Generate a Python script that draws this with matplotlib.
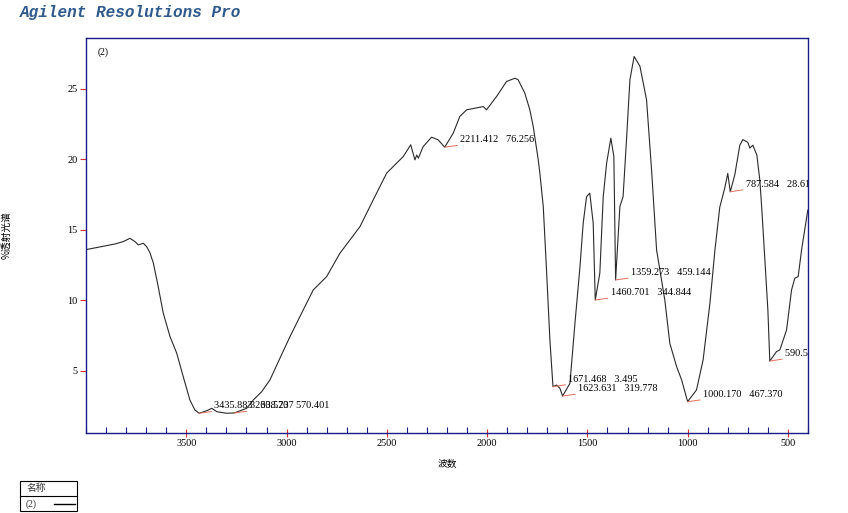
import matplotlib.pyplot as plt
from matplotlib.ticker import MultipleLocator
from matplotlib.patches import Rectangle
from matplotlib.lines import Line2D

plt.rcParams['font.family'] = ['Noto Sans CJK SC', 'DejaVu Sans']

# spectrum (2): wavenumber / %T
wn = [4000, 3905, 3855, 3814, 3781, 3756, 3739, 3714, 3697, 3681, 3664, 3640,
      3615, 3581, 3548, 3515, 3482, 3457, 3435.9, 3398, 3373, 3348, 3299, 3260.6,
      3199, 3166, 3124, 3083, 3033, 2983, 2917, 2867, 2800, 2734, 2634, 2568,
      2501, 2468, 2418, 2381, 2360, 2351, 2343, 2319, 2277, 2244, 2211.4, 2169,
      2136, 2102, 2019, 2003, 1953, 1903, 1861, 1845, 1812, 1787, 1770, 1745,
      1737, 1720, 1703, 1687, 1671.5, 1654, 1637, 1623.6, 1587, 1562, 1537, 1521,
      1504, 1488, 1471, 1460.7, 1438, 1421, 1404, 1383, 1368, 1359.3, 1338, 1322,
      1305, 1288, 1267, 1238, 1205, 1180, 1155, 1114, 1089, 1055, 1030, 1000.2,
      956, 923, 889, 864, 840, 815, 800, 787.6, 765, 740, 725, 700, 690, 675,
      655, 640, 630, 615, 600, 590.5, 557, 540, 507, 482, 466, 449, 432, 401]
trans = [13.6, 13.86, 14.0, 14.17, 14.4, 14.17, 13.93, 14.05, 13.8, 13.37, 12.64, 10.98,
         9.11, 7.43, 6.27, 4.59, 2.94, 2.23, 2.0, 2.18, 2.35, 2.11, 2.0, 2.02,
         2.35, 2.94, 3.53, 4.36, 5.9, 7.43, 9.32, 10.74, 11.69, 13.34, 15.23, 17.12,
         19.02, 19.49, 20.2, 21.03, 19.96, 20.3, 20.08, 20.9, 21.57, 21.38, 20.86, 21.85,
         23.04, 23.51, 23.74, 23.51, 24.45, 25.52, 25.75, 25.63, 24.69, 23.51, 22.32, 19.96,
         19.02, 16.65, 11.93, 7.2, 3.88, 4.0, 3.77, 3.22, 4.12, 8.38, 12.39, 15.47,
         17.36, 17.6, 15.47, 10.03, 11.93, 17.36, 19.73, 21.5, 20.2, 11.45, 16.65, 17.36,
         21.38, 25.63, 27.29, 26.6, 24.22, 19.25, 13.58, 10.03, 6.96, 5.3, 4.36, 2.82,
         3.65, 5.78, 9.8, 13.58, 16.6, 17.97, 19.0, 17.7, 18.9, 21.0, 21.4, 21.2, 20.8, 21.0,
         20.3, 18.5, 16.4, 12.87, 9.3, 5.7, 6.37, 6.5, 7.9, 10.74, 11.57, 11.69, 13.58, 16.4]

# peak labels
peak_wn = ["3435.883", "3260.570", "2211.412", "1671.468", "1623.631",
           "1460.701", "1359.273", "1000.170", "787.584", "590.512"]
peak_t = [2.0, 2.02, 20.86, 3.88, 3.22, 10.03, 11.45, 2.82, 17.7, 5.7]
peak_val = ["338.237", "570.401", "76.256", "3.495", "319.778",
            "344.844", "459.144", "467.370", "28.614", "36.102"]

navy = '#1c1c86'
red = '#d0342c'

fig = plt.figure(figsize=(8.48, 5.13), dpi=100)
ax = fig.add_axes([86/848, 1-433/513, 722/848, 395/513])

ax.plot(wn, trans, color='#2a2a2a', lw=0.8)

for w, t, v in zip(peak_wn, peak_t, peak_val):
    ann = ax.annotate(f"{w}   {v}", xy=(float(w), t), xytext=(11, 5.5),
                      textcoords='offset points', ha='left', va='center',
                      fontsize=7.4, family=['Liberation Serif', 'DejaVu Sans'],
                      arrowprops=dict(arrowstyle='-', color='#e0705a', lw=0.7,
                                      shrinkA=0, shrinkB=0))
    ann.set_clip_on(True)
    ann.set_clip_path(ax.patch)

ax.set_xlim(4000, 400)
ax.set_ylim(0.6, 28.6)
ax.xaxis.set_major_locator(MultipleLocator(500))
ax.xaxis.set_minor_locator(MultipleLocator(100))
ax.set_xticks([3500, 3000, 2500, 2000, 1500, 1000, 500])
ax.set_yticks([5, 10, 15, 20, 25])

ax.tick_params(axis='x', which='major', direction='inout', length=6, width=0.8,
               color=red, labelsize=7.4, pad=1)
ax.tick_params(axis='x', which='minor', direction='in', length=4, width=0.8,
               color=navy)
ax.tick_params(axis='y', which='major', direction='out', length=4, width=0.8,
               color=red, labelsize=7.4, pad=2)
for lab in ax.get_xticklabels() + ax.get_yticklabels():
    lab.set_family(['Liberation Serif', 'DejaVu Sans'])

for s in ax.spines.values():
    s.set_color(navy)
    s.set_linewidth(1.0)

ax.set_xlabel('波数', fontsize=7, labelpad=8)
ax.set_ylabel('%透射光谱', fontsize=7, labelpad=40)
ax.text(0.0166, 0.965, '(2)', transform=ax.transAxes, fontsize=7,
        ha='left', va='center', family=['Liberation Serif', 'DejaVu Sans'])

fig.text(20/848, 1-12/513, 'Agilent Resolutions Pro', color='#2f5a8e',
         fontsize=11.5, fontstyle='italic', fontweight='bold',
         family=['Liberation Mono', 'DejaVu Sans Mono'], ha='left', va='center')

# legend table bottom left
fig.patches.append(Rectangle((20/848, 1-511/513), 57/848, 30/513,
                             transform=fig.transFigure, fill=False,
                             edgecolor='black', lw=0.8))
fig.lines.append(Line2D([20/848, 77/848], [1-496/513, 1-496/513],
                        transform=fig.transFigure, color='black', lw=0.8))
fig.text(26/848, 1-488/513, '名称', fontsize=7, color='#333333', va='center')
fig.text(26/848, 1-504/513, '(2)', fontsize=7, color='#333333', va='center',
         family=['Liberation Serif', 'DejaVu Sans'])
fig.lines.append(Line2D([54/848, 75/848], [1-504/513, 1-504/513],
                        transform=fig.transFigure, color='black', lw=1.0))

fig.savefig('out.png', dpi=100)
